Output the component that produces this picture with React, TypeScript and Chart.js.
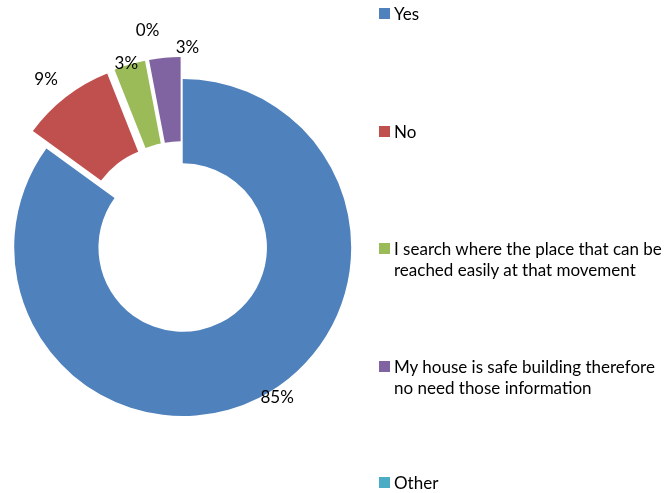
import React, { useEffect, useRef } from "react";
import { Chart, registerables } from "chart.js";

Chart.register(...registerables);

// ---- data ----
const categories: string[][] = [
  ["Yes"],
  ["No"],
  ["I search where the place that can be", "reached easily at that movement"],
  ["My house is safe building therefore", "no need those information"],
  ["Other"],
];
const values: number[] = [85, 9, 3, 3, 0];
const colors: string[] = ["#4F81BD", "#C0504D", "#9BBB59", "#8064A2", "#4BACC6"];

// ---- styling / layout ----
const explodePx: number[] = [0, 22, 22, 22, 22];
const labelNudgeDeg: number[] = [-5.2, -1.5, -1, 7.6, -10.2];
const labelGapPx: number[] = [8.7, 26, 1.6, 9.7, 30];
const legendRowCenterY: number[] = [13.5, 131.5, 248.5, 366.5, 482.5];
const FONT = "Lato, 'Open Sans', sans-serif";
const FONT_SIZE = 17;
const LINE_H = 21.5;

const explodePlugin = {
  id: "explodeSlices",
  beforeDatasetDraw(chart: any, args: any) {
    const ctx = chart.ctx;
    args.meta.data.forEach((arc: any, i: number) => {
      const a = (arc.startAngle + arc.endAngle) / 2;
      const d = explodePx[i] || 0;
      ctx.save();
      ctx.translate(Math.cos(a) * d, Math.sin(a) * d);
      arc.draw(ctx, chart.chartArea);
      ctx.restore();
    });
    return false;
  },
};

const labelPlugin = {
  id: "pctLabels",
  afterDatasetsDraw(chart: any) {
    const ctx = chart.ctx;
    const meta = chart.getDatasetMeta(0);
    const total = values.reduce((s, v) => s + v, 0);
    ctx.save();
    ctx.font = `${FONT_SIZE}px ${FONT}`;
    ctx.fillStyle = "#000";
    ctx.textAlign = "center";
    ctx.textBaseline = "middle";
    meta.data.forEach((arc: any, i: number) => {
      const mid = (arc.startAngle + arc.endAngle) / 2;
      const d = explodePx[i] || 0;
      const cx = arc.x + Math.cos(mid) * d;
      const cy = arc.y + Math.sin(mid) * d;
      const a = mid + (labelNudgeDeg[i] * Math.PI) / 180;
      const r = arc.outerRadius + labelGapPx[i];
      const txt = Math.round((values[i] / total) * 100) + "%";
      ctx.fillText(txt, cx + Math.cos(a) * r, cy + Math.sin(a) * r);
    });
    ctx.restore();
  },
};

export default function App() {
  const canvasRef = useRef<HTMLCanvasElement | null>(null);

  useEffect(() => {
    if (!canvasRef.current) return;
    const chart = new Chart(canvasRef.current, {
      type: "doughnut",
      data: {
        labels: categories.map((c) => c.join(" ")),
        datasets: [
          {
            data: values,
            backgroundColor: colors,
            borderWidth: 0,
          },
        ],
      },
      options: {
        responsive: false,
        animation: false,
        radius: 168.5,
        cutout: "50%",
        layout: { padding: { left: 10, top: 10, right: 316.6, bottom: 8 } },
        plugins: {
          legend: { display: false },
          tooltip: { enabled: false },
        },
      } as any,
      plugins: [explodePlugin, labelPlugin],
    });
    return () => chart.destroy();
  }, []);

  return (
    <div
      style={{
        position: "fixed",
        left: 0,
        top: 0,
        width: 672,
        height: 493,
        background: "#fff",
        overflow: "hidden",
      }}
    >
      <canvas ref={canvasRef} width={672} height={493} style={{ position: "absolute", left: 0, top: 0 }} />
      {categories.map((lines, i) => (
        <div
          key={i}
          style={{
            position: "absolute",
            left: 379,
            top: legendRowCenterY[i] - LINE_H / 2,
            display: "flex",
            alignItems: "flex-start",
            fontFamily: FONT,
            fontSize: FONT_SIZE,
            lineHeight: `${LINE_H}px`,
            color: "#000",
            whiteSpace: "nowrap",
          }}
        >
          <span
            style={{
              width: 11,
              height: 11,
              background: colors[i],
              marginTop: (LINE_H - 11) / 2,
              marginRight: 4,
              flex: "none",
            }}
          />
          <span>
            {lines.map((l, j) => (
              <div key={j}>{l}</div>
            ))}
          </span>
        </div>
      ))}
    </div>
  );
}
